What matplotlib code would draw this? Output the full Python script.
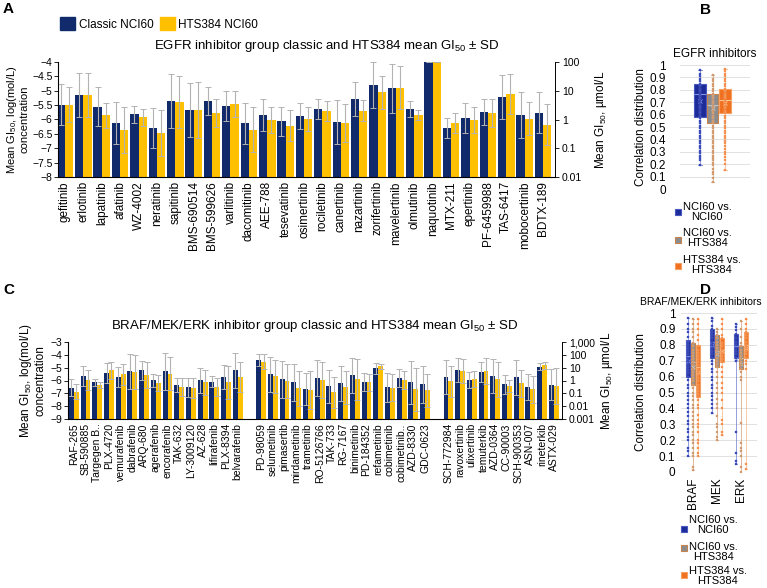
import numpy as np
import matplotlib.pyplot as plt
from matplotlib.patches import Rectangle

plt.rcParams['font.family'] = ['Liberation Sans', 'DejaVu Sans']
plt.rcParams['mathtext.fontset'] = 'custom'
plt.rcParams['mathtext.rm'] = 'Liberation Sans'
plt.rcParams['mathtext.it'] = 'Liberation Sans:italic'
plt.rcParams['mathtext.bf'] = 'Liberation Sans:bold'

# ---------------- data ----------------
egfr_names = ['gefitinib', 'erlotinib', 'lapatinib', 'afatinib', 'WZ-4002', 'neratinib',
              'sapitinib', 'BMS-690514', 'BMS-599626', 'varlitinib', 'dacomitinib', 'AEE-788',
              'tesevatinib', 'osimertinib', 'rociletinib', 'canertinib', 'nazartinib',
              'zorifertinib', 'mavelertinib', 'olmutinib', 'naquotinib', 'MTX-211', 'epertinib',
              'PF-6459988', 'TAS-6417', 'mobocertinib', 'BDTX-189']
egfr_classic = [-5.48, -5.15, -5.55, -6.12, -5.82, -6.30, -5.36, -5.67, -5.36, -5.53, -6.13, -5.85,
                -6.06, -5.88, -5.64, -6.08, -5.29, -4.80, -4.92, -5.63, -4.00, -6.30, -5.94,
                -5.73, -5.22, -5.84, -5.77]
egfr_hts = [-5.48, -5.15, -5.85, -6.37, -5.93, -6.48, -5.40, -5.67, -5.78, -5.45, -6.35, -6.03,
            -6.22, -5.98, -5.70, -6.13, -5.69, -5.06, -4.90, -5.85, -4.00, -6.12, -6.02,
            -5.78, -5.11, -5.97, -6.18]
egfr_classic_sd = [0.70, 0.78, 0.67, 0.72, 0.30, 0.70, 0.95, 0.93, 0.50, 0.52, 0.71, 0.56,
                   0.50, 0.45, 0.35, 0.76, 0.59, 0.80, 0.85, 0.28, 0.0, 0.34, 0.52,
                   0.46, 0.77, 0.81, 0.71]
egfr_hts_sd = [0.60, 0.75, 0.43, 0.79, 0.30, 0.80, 0.90, 0.97, 0.48, 0.45, 0.77, 0.45,
               0.54, 0.41, 0.34, 0.67, 0.37, 0.57, 0.75, 0.18, 0.0, 0.34, 0.45,
               0.49, 0.70, 0.57, 0.71]

braf_names = ['RAF-265', 'SB-590885', 'Targegen B..', 'PLX-4720', 'vemurafenib', 'dabrafenib',
              'ARQ-680', 'agerafenib', 'encorafenib', 'TAK-632', 'LY-3009120', 'AZ-628',
              'lifirafenib', 'PLX-8394', 'belvarafenib']
braf_classic = [-6.57, -5.66, -6.13, -5.38, -5.72, -5.28, -5.22, -6.00, -5.28, -6.36, -6.54, -5.97,
                -6.08, -5.72, -5.22]
braf_hts = [-6.88, -5.97, -6.36, -5.20, -5.51, -5.35, -5.56, -6.23, -5.46, -6.49, -6.57, -6.15,
            -6.49, -6.13, -5.72]
braf_classic_sd = [0.65, 0.80, 0.26, 0.78, 0.75, 1.38, 0.77, 0.54, 1.43, 0.57, 0.74, 0.97, 0.44, 0.96, 1.39]
braf_hts_sd = [0.57, 0.77, 0.21, 0.67, 0.81, 1.32, 1.00, 0.62, 1.26, 0.70, 0.77, 0.95, 0.69, 1.29, 1.17]

mek_names = ['PD-98059', 'selumetinib', 'pimasertib', 'mirdametinib', 'trametinib', 'RO-5126766',
             'TAK-733', 'RG-7167', 'binimetinib', 'PD-184352', 'refametinib', 'cobimetinib',
             'cobimetinib..', 'AZD-8330', 'GDC-0623']
mek_classic = [-4.40, -5.51, -5.92, -6.15, -6.67, -5.77, -6.44, -6.21, -5.61, -6.10, -5.04, -6.54,
               -5.79, -6.15, -6.31]
mek_hts = [-4.53, -5.66, -6.03, -6.62, -6.75, -5.97, -6.93, -6.54, -5.90, -6.15, -4.89, -6.57,
           -5.97, -6.70, -6.75]
mek_classic_sd = [0.44, 1.35, 1.42, 1.47, 1.27, 1.40, 1.29, 1.37, 1.39, 0.70, 0.44, 1.14, 0.72, 1.65, 1.47]
mek_hts_sd = [0.57, 1.29, 1.30, 1.37, 1.50, 1.42, 1.21, 1.26, 1.61, 0.64, 0.21, 1.06, 0.72, 1.68, 1.29]

erk_names = ['SCH-772984', 'ravoxertinib', 'ulixertinib', 'temuterkib', 'AZD-0364', 'CC-90003',
             'SCH-900353', 'ASN-007', 'rineterkib', 'ASTX-029']
erk_classic = [-5.74, -5.20, -5.97, -5.33, -5.65, -6.30, -5.75, -6.53, -4.92, -6.32]
erk_hts = [-6.05, -5.25, -5.87, -5.26, -5.91, -6.43, -6.22, -6.69, -4.82, -6.43]
erk_classic_sd = [1.32, 0.93, 0.62, 0.75, 1.30, 0.73, 1.35, 1.01, 0.26, 1.22]
erk_hts_sd = [1.21, 0.96, 0.62, 0.99, 1.38, 0.47, 1.04, 1.07, 0.26, 1.38]

corr_labels = ['NCI60 vs.\nNCI60', 'NCI60 vs.\nHTS384', 'HTS384 vs.\nHTS384']

# EGFR correlation distributions: (q1, median, q3, mean) and individual values
egfr_box = [(0.58, 0.77, 0.85, 0.71), (0.535, 0.68, 0.765, 0.65), (0.61, 0.72, 0.805, 0.69)]
egfr_pts = [
    [0.19, 0.23, 0.25, 0.27, 0.29, 0.31, 0.33, 0.35, 0.37, 0.39, 0.41, 0.43, 0.45, 0.47, 0.49,
     0.51, 0.53, 0.55, 0.57, 0.59, 0.61, 0.63, 0.65, 0.67, 0.69, 0.71, 0.73, 0.75, 0.77, 0.79,
     0.81, 0.83, 0.85, 0.87, 0.89, 0.91, 0.93, 0.96],
    [0.06, 0.09, 0.12, 0.14, 0.16, 0.19, 0.21, 0.23, 0.25, 0.27, 0.29, 0.31, 0.33, 0.35, 0.37,
     0.39, 0.41, 0.43, 0.45, 0.47, 0.49, 0.51, 0.53, 0.55, 0.57, 0.59, 0.61, 0.63, 0.65, 0.67,
     0.69, 0.71, 0.73, 0.75, 0.77, 0.79, 0.81, 0.83, 0.85, 0.87, 0.89, 0.92],
    [0.15, 0.20, 0.23, 0.26, 0.28, 0.30, 0.32, 0.35, 0.37, 0.39, 0.41, 0.43, 0.45, 0.47, 0.49,
     0.51, 0.53, 0.55, 0.57, 0.59, 0.61, 0.63, 0.65, 0.67, 0.69, 0.71, 0.73, 0.75, 0.77, 0.79,
     0.81, 0.83, 0.85, 0.87, 0.89, 0.91, 0.93, 0.95, 0.97],
]

kinase_groups = ['BRAF', 'MEK', 'ERK']
kinase_box = [
    [(0.60, 0.73, 0.83, 0.70), (0.55, 0.69, 0.81, 0.66), (0.47, 0.66, 0.80, 0.63)],
    [(0.72, 0.82, 0.90, 0.80), (0.66, 0.76, 0.86, 0.74), (0.69, 0.77, 0.84, 0.76)],
    [(0.72, 0.79, 0.87, 0.71), (0.65, 0.72, 0.79, 0.68), (0.72, 0.80, 0.88, 0.78)],
]
kinase_pts = [
    [[0.10, 0.13, 0.15, 0.20, 0.22, 0.25, 0.27, 0.30, 0.32, 0.35, 0.38, 0.40, 0.43, 0.45, 0.48,
      0.50, 0.53, 0.55, 0.58, 0.60, 0.62, 0.64, 0.66, 0.68, 0.70, 0.72, 0.74, 0.76, 0.78, 0.80,
      0.82, 0.85, 0.88, 0.90, 0.93, 0.97],
     [0.01, 0.03, 0.10, 0.12, 0.15, 0.18, 0.20, 0.23, 0.25, 0.28, 0.30, 0.33, 0.35, 0.38, 0.40,
      0.42, 0.45, 0.48, 0.50, 0.53, 0.55, 0.57, 0.59, 0.61, 0.63, 0.65, 0.67, 0.69, 0.71, 0.73,
      0.75, 0.77, 0.79, 0.81, 0.85, 0.88, 0.90, 0.93, 0.96],
     [0.10, 0.12, 0.15, 0.18, 0.20, 0.25, 0.28, 0.30, 0.33, 0.36, 0.40, 0.42, 0.45, 0.47, 0.49,
      0.51, 0.53, 0.55, 0.57, 0.59, 0.61, 0.63, 0.65, 0.67, 0.69, 0.71, 0.73, 0.75, 0.77, 0.79,
      0.83, 0.86, 0.90, 0.93, 0.96]],
    [[0.37, 0.40, 0.43, 0.45, 0.48, 0.50, 0.53, 0.55, 0.58, 0.60, 0.63, 0.65, 0.68, 0.70, 0.72,
      0.74, 0.76, 0.78, 0.80, 0.82, 0.84, 0.86, 0.88, 0.90, 0.92, 0.95, 0.97],
     [0.20, 0.22, 0.25, 0.28, 0.30, 0.35, 0.40, 0.43, 0.46, 0.50, 0.53, 0.56, 0.60, 0.63, 0.66,
      0.68, 0.70, 0.72, 0.74, 0.76, 0.78, 0.80, 0.82, 0.84, 0.86, 0.88, 0.90],
     [0.23, 0.25, 0.30, 0.33, 0.40, 0.45, 0.50, 0.53, 0.56, 0.60, 0.63, 0.66, 0.69, 0.71, 0.73,
      0.75, 0.77, 0.79, 0.81, 0.84, 0.86, 0.90, 0.93, 0.96]],
    [[0.05, 0.07, 0.12, 0.25, 0.70, 0.72, 0.74, 0.76, 0.78, 0.80, 0.82, 0.84, 0.87, 0.89, 0.91, 0.93],
     [0.00, 0.03, 0.10, 0.13, 0.15, 0.18, 0.31, 0.58, 0.60, 0.63, 0.65, 0.67, 0.69, 0.71, 0.73,
      0.75, 0.77, 0.79, 0.81, 0.85, 0.90, 0.95],
     [0.02, 0.05, 0.65, 0.68, 0.70, 0.72, 0.74, 0.76, 0.78, 0.80, 0.82, 0.84, 0.86, 0.88, 0.90,
      0.93, 0.96]],
]

# ---------------- styles ----------------
NAVY = '#102a6b'
GOLD = '#ffc000'
# (box face, box edge, dot face, dot edge, median/mean line)
corr_styles = [('#1d2b99', '#4657c0', '#1d2fa3', '#6676d4', '#8494e4'),
               ('#8c8c8c', '#c7834d', '#c8875a', '#e4b792', '#c4c4c4'),
               ('#f07020', '#f5a060', '#f27a2c', '#f8b484', '#f8c494')]

W, H = 767, 588
fig = plt.figure(figsize=(W / 100, H / 100), dpi=100)


def px_axes(l, t, r, b):
    return fig.add_axes([l / W, 1 - b / H, (r - l) / W, (b - t) / H])


def bar_panel(ax, pos, classic, hts, sd_c, sd_h, names, ymin, ymax, width, cat_fs, tick_fs):
    pos = np.asarray(pos, float)
    ax.bar(pos - width / 2, np.array(classic) - ymin, width, bottom=ymin, color=NAVY, zorder=2)
    ax.bar(pos + width / 2, np.array(hts) - ymin, width, bottom=ymin, color=GOLD, zorder=2)
    for off, v, e in ((-width / 2, classic, sd_c), (width / 2, hts, sd_h)):
        eb = ax.errorbar(pos + off, v, yerr=e, fmt='none', ecolor='#b3b3b3', elinewidth=0.8,
                         capsize=2, capthick=0.7, zorder=3)
        for cl in eb[1]:
            cl.set_color('#6f6f6f')
    ax.set_ylim(ymin, ymax)
    ax.set_xticks(pos, names, rotation=90, fontsize=cat_fs)
    ax.tick_params(axis='x', length=0, pad=3)
    ax.tick_params(axis='y', labelsize=tick_fs, length=3, width=0.6, pad=1)
    ax.spines['top'].set_visible(False)
    for s in ('left', 'bottom', 'right'):
        ax.spines[s].set_linewidth(0.6)
    ax2 = ax.twinx()
    ax2.set_yscale('log')
    ax2.set_ylim(10 ** (ymin + 6), 10 ** (ymax + 6))
    ax2.spines['top'].set_visible(False)
    ax2.spines['right'].set_linewidth(0.6)
    ax2.tick_params(axis='y', which='minor', length=0)
    ax2.tick_params(axis='y', labelsize=tick_fs, length=3, width=0.6, pad=2)
    ticks = [10.0 ** k for k in range(ymin + 6, ymax + 7)]
    ax2.set_yticks(ticks, [f'{t:,.3f}'.rstrip('0').rstrip('.') for t in ticks])
    return ax2


def box_panel(ax, centers, stats, points, width, ms):
    for c, st, pts, (fc, ec, dc, de, lc) in zip(centers, stats, points, corr_styles):
        q1, med, q3, mean = st
        ax.bxp([dict(q1=q1, med=med, q3=q3, mean=mean, whislo=min(pts), whishi=max(pts), fliers=[])],
               positions=[c], widths=width, patch_artist=True, showmeans=True,
               boxprops=dict(facecolor=fc, edgecolor=ec, linewidth=0.8),
               medianprops=dict(color=lc, linewidth=0.8),
               whiskerprops=dict(color=ec, linewidth=0.4),
               capprops=dict(color=ec, linewidth=0.5),
               meanprops=dict(marker='x', markeredgecolor=lc, markersize=3, markeredgewidth=0.6),
               capwidths=width * 0.3, manage_ticks=False, zorder=2)
        ax.scatter(np.full(len(pts), c), pts, s=ms, marker='s', c=dc, edgecolors=de,
                   linewidths=0.3, zorder=3)


def corr_axes_style(ax, pad):
    ax.set_ylim(0, 1)
    ax.set_yticks(np.arange(0, 1.01, 0.1), ['0'] + [f'{v:.1f}' for v in np.arange(0.1, 0.95, 0.1)] + ['1'])
    ax.grid(axis='y', color='#dcdcdc', linewidth=0.6, zorder=0)
    ax.set_axisbelow(True)
    for s in ax.spines.values():
        s.set_visible(False)
    ax.tick_params(axis='y', length=0, labelsize=8.5, pad=pad)
    ax.set_ylabel('Correlation distribution', fontsize=8.5, labelpad=2)


def corr_legend(x, rows):
    for (fc, ec, *_), lab, (ty, sy) in zip(corr_styles, corr_labels, rows):
        fig.add_artist(Rectangle((x / W, 1 - (sy + 3) / H), 6 / W, 6 / H, transform=fig.transFigure,
                                 facecolor=fc, edgecolor=ec, linewidth=0.8))
        fig.text((x + 8) / W, 1 - ty / H, lab, fontsize=8, ha='left', va='center',
                 multialignment='center', linespacing=1.05)


# ---------------- panel A ----------------
axA = px_axes(58, 62, 555, 177)
posA = np.arange(len(egfr_names))
axA2 = bar_panel(axA, posA, egfr_classic, egfr_hts, egfr_classic_sd, egfr_hts_sd, egfr_names,
                 -8, -4, 0.45, 8.5, 7.5)
axA.set_xlim(-0.38, len(egfr_names) - 0.35)
axA.set_yticks(np.arange(-8, -3.9, 0.5),
               [f'{v:g}'.replace('-', '\u2212') for v in np.arange(-8, -3.9, 0.5)])
axA.set_ylabel('Mean GI$_{50}$, log(mol/L)\nconcentration', fontsize=8, labelpad=2, linespacing=1.0)
axA2.set_ylabel('Mean GI$_{50}$, µmol/L', fontsize=8.5, labelpad=8)
axA.set_title('EGFR inhibitor group classic and HTS384 mean GI$_{50}$ ± SD', fontsize=9.5, pad=9,
              x=0.54)
hA = [Rectangle((0, 0), 1, 1, color=NAVY), Rectangle((0, 0), 1, 1, color=GOLD)]
fig.legend(hA, ['Classic NCI60', 'HTS384 NCI60'], loc='center left', bbox_to_anchor=(60 / W, 1 - 24 / H),
           ncol=2, frameon=False, fontsize=8.5, handlelength=1.3, handleheight=1.2,
           handletextpad=0.3, columnspacing=0.5, borderaxespad=0, borderpad=0)

# ---------------- panel B ----------------
axB = px_axes(680, 65, 750, 189)
box_panel(axB, [1, 2, 3], egfr_box, egfr_pts, 0.95, 2.5)
axB.set_xlim(-0.6, 5.0)
axB.set_xticks([])
corr_axes_style(axB, 10)
axB.set_title('EGFR inhibitors', fontsize=8.5, pad=6)
corr_legend(675, [(212, 212), (238, 240), (265, 266)])

# ---------------- panel C ----------------
axC = px_axes(68, 342, 562, 419)
names_C = braf_names + mek_names + erk_names
posC = np.concatenate([np.arange(len(braf_names)),
                       len(braf_names) + 1 + np.arange(len(mek_names)),
                       len(braf_names) + len(mek_names) + 2 + np.arange(len(erk_names))])
axC2 = bar_panel(axC, posC, braf_classic + mek_classic + erk_classic, braf_hts + mek_hts + erk_hts,
                 braf_classic_sd + mek_classic_sd + erk_classic_sd,
                 braf_hts_sd + mek_hts_sd + erk_hts_sd, names_C, -9, -3, 0.42, 7.5, 7.5)
axC.set_xlim(-0.5, posC[-1] + 0.7)
axC.set_yticks(np.arange(-9, -2.9, 1), [f'\u2212{abs(v)}' for v in range(-9, -2)])
axC.set_ylabel('Mean GI$_{50}$, log(mol/L)\nconcentration', fontsize=8.5, labelpad=3, linespacing=1.0)
axC2.set_ylabel('Mean GI$_{50}$, µmol/L', fontsize=8.5, labelpad=3)
axC.set_title('BRAF/MEK/ERK inhibitor group classic and HTS384 mean GI$_{50}$ ± SD', fontsize=9.5,
              pad=9, x=0.5)

# ---------------- panel D ----------------
axD = px_axes(681, 313, 757, 472)
for g, (name, st, pts) in enumerate(zip(kinase_groups, kinase_box, kinase_pts)):
    box_panel(axD, [g - 0.21, g, g + 0.21], st, pts, 0.19, 3)
axD.set_xlim(-0.5, 2.67)
axD.set_xticks(range(len(kinase_groups)), kinase_groups, rotation=90, fontsize=8.5)
axD.tick_params(axis='x', length=0, pad=4)
corr_axes_style(axD, 4)
axD.yaxis.set_label_coords(-0.45, 0.5)
fig.text(701 / W, 1 - 302 / H, 'BRAF/MEK/ERK inhibitors', fontsize=7.5, ha='center', va='center')
corr_legend(681, [(525, 529), (552, 548), (576, 575)])

# ---------------- panel letters ----------------
for lab, x, y in (('A', 3, 2), ('B', 700, 3), ('C', 3, 283), ('D', 700, 283)):
    fig.text(x / W, 1 - y / H, lab, fontsize=11, fontweight='bold', ha='left', va='top')

fig.savefig('out.png', dpi=100)
